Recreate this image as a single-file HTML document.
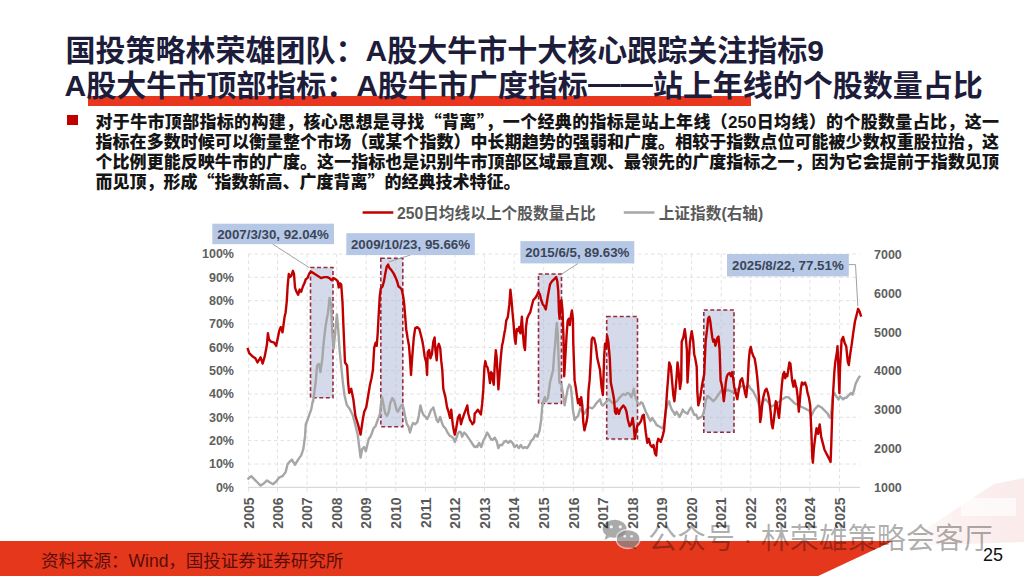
<!DOCTYPE html>
<html><head><meta charset="utf-8"><style>
html,body{margin:0;padding:0;background:#fff;}
body{width:1024px;height:576px;position:relative;overflow:hidden;font-family:"Liberation Sans","Noto Sans CJK SC",sans-serif;}
.abs{position:absolute;white-space:nowrap;}
.title{left:67px;font-size:30px;font-weight:700;color:#1d1d3b;line-height:36px;letter-spacing:0;}
.bar{position:absolute;left:87.5px;top:95.5px;width:663px;height:10.5px;background:#e8361f;}
.bullet{position:absolute;left:67px;top:115px;width:10.5px;height:10px;background:#c00000;}
.pl{position:absolute;left:95.5px;width:903.5px;height:20px;font-size:17px;line-height:20px;font-weight:900;color:#151515;text-align:justify;text-align-last:justify;white-space:nowrap;}
.pl.last{text-align-last:left;}
.q{font-family:"Noto Sans CJK SC",sans-serif;line-height:0;}
.chart{position:absolute;left:0;top:0;}
.g{stroke:#e2e2e2;stroke-width:1;stroke-dasharray:3.5 3;}
.bx{fill:#a9b6d3;fill-opacity:0.5;stroke:#962c3c;stroke-width:1.6;stroke-dasharray:4 2.5;}
.lg{fill:none;stroke:#a6a6a6;stroke-width:2.4;stroke-linejoin:round;}
.lr{fill:none;stroke:#c00000;stroke-width:2.4;stroke-linejoin:round;}
.al{font-family:"Liberation Sans",sans-serif;font-size:12.5px;font-weight:700;fill:#606060;}
.xl{font-family:"Liberation Sans",sans-serif;font-size:14px;font-weight:700;fill:#595959;}
.ld{stroke:#a0a0a0;stroke-width:1;}
.ab{fill:#b7c8e6;}
.at{font-family:"Liberation Sans",sans-serif;font-size:13.3px;font-weight:700;fill:#3b4659;}
.lgt{font-family:"Liberation Sans","Noto Sans CJK SC",sans-serif;font-size:15.7px;font-weight:700;fill:#595959;}
.foot{position:absolute;left:0;top:540.5px;width:1024px;height:36px;}
.src{left:41px;top:547px;font-size:17.5px;color:#5a0e0a;}
.pg{left:983px;top:544.5px;font-size:18px;color:#111;}
.wm{left:648px;top:515px;font-size:29px;color:rgba(0,0,0,0.32);}
</style></head><body>
<div class="bar"></div>
<div class="abs title" style="top:32.5px;left:65.5px;">国投策略林荣雄团队：A股大牛市十大核心跟踪关注指标9</div>
<div class="abs title" style="top:67.5px;left:64.5px;">A股大牛市顶部指标：A股牛市广度指标<span style="display:inline-block;transform:scaleX(1.08);transform-origin:0 0;margin-right:5px;position:relative;top:-2px">——</span>站上年线的个股数量占比</div>
<div class="bullet"></div>
<div class="pl" style="top:112.8px">对于牛市顶部指标的构建，核心思想是寻找<span class="q">“</span>背离<span class="q">”</span>，一个经典的指标是站上年线（250日均线）的个股数量占比，这一</div><div class="pl" style="top:132.6px">指标在多数时候可以衡量整个市场（或某个指数）中长期趋势的强弱和广度。相较于指数点位可能被少数权重股拉抬，这</div><div class="pl" style="top:153.2px">个比例更能反映牛市的广度。这一指标也是识别牛市顶部区域最直观、最领先的广度指标之一，因为它会提前于指数见顶</div><div class="pl last" style="top:173.2px">而见顶，形成<span class="q">“</span>指数新高、广度背离<span class="q">”</span>的经典技术特征。</div>
<svg class="chart" width="1024" height="576" viewBox="0 0 1024 576">
<g><line x1="248.0" y1="464.0" x2="860.0" y2="464.0" class="g"/><line x1="248.0" y1="440.6" x2="860.0" y2="440.6" class="g"/><line x1="248.0" y1="417.3" x2="860.0" y2="417.3" class="g"/><line x1="248.0" y1="394.0" x2="860.0" y2="394.0" class="g"/><line x1="248.0" y1="370.7" x2="860.0" y2="370.7" class="g"/><line x1="248.0" y1="347.3" x2="860.0" y2="347.3" class="g"/><line x1="248.0" y1="324.0" x2="860.0" y2="324.0" class="g"/><line x1="248.0" y1="300.7" x2="860.0" y2="300.7" class="g"/><line x1="248.0" y1="277.3" x2="860.0" y2="277.3" class="g"/><line x1="248.0" y1="254.0" x2="860.0" y2="254.0" class="g"/><line x1="248.6" y1="254.0" x2="248.6" y2="493.3" class="g"/><line x1="277.5" y1="254.0" x2="277.5" y2="493.3" class="g"/><line x1="307.1" y1="254.0" x2="307.1" y2="493.3" class="g"/><line x1="336.7" y1="254.0" x2="336.7" y2="493.3" class="g"/><line x1="366.2" y1="254.0" x2="366.2" y2="493.3" class="g"/><line x1="395.8" y1="254.0" x2="395.8" y2="493.3" class="g"/><line x1="425.4" y1="254.0" x2="425.4" y2="493.3" class="g"/><line x1="455.0" y1="254.0" x2="455.0" y2="493.3" class="g"/><line x1="484.6" y1="254.0" x2="484.6" y2="493.3" class="g"/><line x1="514.1" y1="254.0" x2="514.1" y2="493.3" class="g"/><line x1="543.7" y1="254.0" x2="543.7" y2="493.3" class="g"/><line x1="573.3" y1="254.0" x2="573.3" y2="493.3" class="g"/><line x1="602.9" y1="254.0" x2="602.9" y2="493.3" class="g"/><line x1="632.5" y1="254.0" x2="632.5" y2="493.3" class="g"/><line x1="662.0" y1="254.0" x2="662.0" y2="493.3" class="g"/><line x1="691.6" y1="254.0" x2="691.6" y2="493.3" class="g"/><line x1="721.2" y1="254.0" x2="721.2" y2="493.3" class="g"/><line x1="750.8" y1="254.0" x2="750.8" y2="493.3" class="g"/><line x1="780.4" y1="254.0" x2="780.4" y2="493.3" class="g"/><line x1="809.9" y1="254.0" x2="809.9" y2="493.3" class="g"/><line x1="839.5" y1="254.0" x2="839.5" y2="493.3" class="g"/></g>
<line x1="248.0" y1="487.3" x2="860.0" y2="487.3" stroke="#d9d9d9" stroke-width="1.3"/>
<rect x="310.5" y="267.5" width="22.5" height="130.3" class="bx"/><rect x="380.8" y="258.3" width="22.0" height="168.4" class="bx"/><rect x="538.5" y="274.0" width="23.0" height="129.5" class="bx"/><rect x="606.7" y="316.5" width="30.8" height="122.5" class="bx"/><rect x="703.8" y="310.0" width="30.2" height="122.3" class="bx"/>
<polyline points="247.5,479.4 251.2,476.2 254.4,479.4 257.5,482.5 260.6,485.6 263.8,483.5 266.9,480.4 270.0,482.5 273.1,484.2 276.2,481.5 279.4,477.3 282.5,476.2 285.6,472.1 287.7,463.8 289.8,461.7 291.9,459.6 295.0,464.8 298.1,459.6 301.2,455.4 303.3,449.2 305.0,436.7 305.8,424.2 307.5,420.0 309.6,413.8 311.2,409.6 312.7,401.2 313.1,401.8 315.7,382.0 317.1,365.5 319.0,363.9 320.4,372.1 322.3,358.9 323.7,342.4 325.6,325.9 328.0,312.7 329.6,297.9 331.3,306.1 332.2,332.5 333.6,349.0 335.5,329.2 336.9,314.4 338.2,329.2 339.5,349.0 341.2,365.5 342.8,382.0 344.5,395.2 346.8,405.1 349.4,408.4 352.7,415.0 355.3,424.9 357.7,434.8 360.6,457.5 362.1,449.2 364.2,447.1 365.8,451.2 367.3,445.0 368.8,438.8 370.4,436.7 372.1,432.5 373.5,428.3 375.6,426.2 377.7,420.0 379.8,414.8 380.8,405.4 381.9,397.1 382.9,401.2 384.0,407.5 385.4,413.8 387.1,415.8 388.8,411.7 390.2,403.3 392.3,398.1 394.4,401.2 396.5,409.6 397.9,411.7 399.6,408.5 401.2,405.4 402.7,404.4 403.8,409.6 405.4,417.9 406.9,424.2 408.3,426.2 410.0,432.5 411.7,426.2 413.1,423.1 415.2,424.2 417.3,422.1 418.8,415.8 420.4,405.4 422.1,411.7 423.5,414.8 425.6,416.9 427.1,419.0 428.8,415.8 430.8,410.6 433.3,407.5 435.0,413.8 436.7,420.0 438.1,422.1 440.2,416.9 441.7,422.1 443.3,426.2 445.4,428.3 447.5,432.5 449.6,435.6 451.7,436.7 453.8,438.8 454.8,441.9 456.2,438.8 457.9,433.5 459.6,431.5 461.0,432.5 462.1,436.7 464.2,432.5 466.2,434.6 468.3,437.7 470.4,440.8 472.5,444.0 474.6,447.1 476.7,446.0 477.1,447.1 479.2,442.9 481.2,447.1 483.3,440.8 485.4,436.7 487.1,432.5 488.5,434.6 490.6,438.8 492.7,439.8 494.8,437.7 496.9,441.9 498.3,448.1 500.0,445.0 502.1,445.0 504.2,441.9 506.2,440.8 508.3,442.9 510.4,440.8 512.5,442.9 514.6,447.1 516.7,445.0 518.8,448.1 520.8,445.0 522.9,448.1 525.0,447.1 527.1,448.1 529.2,445.0 531.2,440.8 533.3,438.8 535.4,434.6 537.5,436.7 539.6,430.4 541.2,420.0 542.1,407.5 543.3,401.2 544.8,397.1 545.8,401.2 547.9,398.1 550.0,382.5 553.1,370.0 554.2,354.2 555.2,343.8 556.2,329.2 556.9,322.9 557.7,333.3 558.3,350.0 559.4,382.5 561.5,384.6 562.5,390.8 564.6,405.4 566.2,397.1 567.7,388.8 569.2,384.6 570.8,386.7 571.9,397.1 572.9,409.6 574.6,420.0 576.0,417.9 578.1,415.8 580.2,408.5 582.3,411.7 584.4,413.8 586.5,409.6 588.5,407.5 590.0,407.5 592.1,408.5 594.2,406.5 596.2,403.3 598.3,401.2 600.0,399.2 601.5,404.4 602.9,405.4 605.0,403.3 606.7,401.2 608.8,399.2 610.8,401.2 612.9,403.3 615.0,402.3 617.1,401.2 619.2,398.1 621.2,396.0 623.3,394.0 625.4,395.0 627.5,392.9 629.6,394.0 631.2,397.1 632.7,392.9 633.8,388.8 634.8,395.0 636.2,399.2 637.9,403.3 639.6,404.4 641.0,402.3 642.5,403.3 644.2,407.5 645.8,411.7 647.3,414.8 648.8,417.9 650.4,421.0 652.1,417.9 653.5,420.0 655.0,422.1 656.7,425.2 658.8,426.2 660.8,427.3 662.9,428.3 664.0,424.2 665.0,417.9 666.0,409.6 667.5,404.4 669.2,401.2 670.2,405.4 671.7,409.6 673.3,411.7 675.0,414.8 676.5,411.7 677.9,413.8 679.6,416.9 681.2,413.8 682.7,409.6 684.2,411.7 685.8,412.7 687.5,413.8 689.0,410.6 691.0,407.5 692.5,410.6 694.2,414.8 696.2,414.8 697.9,419.0 699.4,417.9 701.5,416.9 702.9,414.8 704.6,408.5 705.6,401.2 707.1,397.1 707.5,396.0 709.2,397.1 711.2,399.2 713.3,401.2 715.4,399.2 717.5,396.0 719.6,392.9 721.7,389.8 723.8,391.9 725.8,390.8 727.9,389.8 730.0,390.8 732.1,391.9 734.2,390.8 736.2,389.8 738.3,388.8 740.4,386.7 742.5,385.6 744.6,387.7 746.7,386.7 748.8,385.6 750.8,388.8 752.9,390.8 755.0,395.0 757.1,399.2 758.8,404.4 760.2,408.5 761.7,406.5 763.3,401.2 765.4,399.2 767.5,401.2 769.6,404.4 771.7,406.5 773.8,405.4 775.8,403.3 777.9,402.3 780.0,401.2 782.1,399.2 784.2,398.1 786.2,397.1 788.3,397.1 790.4,399.2 792.5,401.2 794.6,403.3 796.7,404.4 798.8,405.4 800.8,406.5 802.9,407.5 805.0,408.5 807.1,409.6 809.2,410.6 810.2,412.7 811.2,415.8 812.3,413.8 813.3,411.7 815.0,408.8 818.1,405.6 821.2,407.2 824.4,410.3 827.5,413.4 829.1,416.6 830.6,418.1 831.6,408.8 832.8,396.2 834.4,393.1 836.2,396.2 838.4,399.4 840.0,396.2 841.6,397.8 843.1,399.4 844.7,397.8 846.2,397.8 847.8,396.2 849.4,394.7 850.9,393.1 852.5,394.7 854.1,390.0 855.6,383.8 857.2,380.6 858.8,377.5 860.3,375.9" class="lg"/>
<polyline points="247.5,347.9 249.2,353.1 252.3,356.2 255.4,358.3 257.5,362.5 260.6,357.3 262.7,363.5 264.8,356.2 266.9,344.8 267.9,333.3 269.0,339.6 271.0,341.7 274.2,342.7 276.2,345.8 277.9,337.5 279.4,330.2 280.8,327.1 282.5,332.3 283.5,325.0 284.6,316.7 285.6,312.5 286.7,302.1 287.7,285.4 288.8,274.0 289.8,277.1 291.2,276.0 292.9,270.8 294.0,274.0 295.0,287.5 296.0,290.6 298.1,294.8 299.6,289.6 301.2,291.7 302.9,286.5 304.4,283.3 305.8,279.2 307.5,278.1 309.6,272.9 311.7,271.9 314.8,274.0 317.9,276.0 321.0,278.1 324.2,277.1 327.3,277.1 329.4,278.1 331.5,280.2 333.5,278.1 335.6,279.2 337.7,281.2 338.8,287.5 339.8,283.3 341.2,284.4 342.5,302.1 343.3,322.9 344.2,343.8 345.0,362.5 347.1,365.6 348.1,382.5 349.2,392.9 351.2,388.8 353.3,399.2 355.4,415.8 358.5,426.2 360.6,434.6 362.7,420.0 364.2,411.7 366.2,407.5 368.3,395.0 370.0,384.6 371.5,378.3 372.9,370.0 374.2,347.9 375.6,342.7 376.7,345.8 377.7,333.3 378.8,312.5 379.8,295.8 380.8,288.5 382.5,286.5 384.0,281.2 385.4,272.9 386.7,266.7 388.1,264.6 389.2,267.7 391.2,269.8 393.3,272.9 395.4,277.1 397.1,281.2 398.5,286.5 400.0,287.5 401.7,289.6 403.1,295.8 404.2,304.2 405.4,318.8 406.2,329.2 407.5,337.5 409.0,345.8 410.0,358.3 411.0,375.0 412.1,358.3 413.8,337.5 415.2,328.1 417.3,327.1 419.4,329.2 421.5,337.5 422.5,341.7 423.5,347.9 424.6,356.2 426.2,362.5 427.1,375.0 427.7,352.1 429.2,350.0 430.4,358.3 431.9,354.2 433.3,341.7 434.6,337.5 435.4,350.0 436.7,360.4 437.5,347.9 438.8,343.8 440.2,347.9 441.2,360.4 442.3,370.0 443.3,388.8 445.4,397.1 447.1,407.5 448.5,411.7 450.0,417.9 451.2,409.6 452.7,424.2 453.8,430.4 454.8,434.6 455.8,430.4 456.9,424.2 457.9,417.9 459.6,414.8 461.0,424.2 462.1,420.0 464.2,413.8 465.8,409.6 467.3,405.4 468.3,413.8 470.0,420.0 471.5,422.1 472.5,424.2 474.2,422.1 474.7,413.6 476.2,412.0 477.8,409.7 479.4,412.0 480.9,414.4 482.2,403.4 483.3,389.4 484.4,367.5 485.3,361.2 486.4,365.9 487.5,367.5 488.8,373.8 490.0,383.1 491.1,372.2 492.2,373.8 493.1,381.6 493.8,384.7 494.7,365.9 495.8,350.3 496.6,356.6 497.3,369.1 498.4,389.4 499.4,376.9 500.5,361.2 501.2,353.4 502.0,345.6 502.8,342.5 503.6,337.8 504.4,333.1 505.2,329.2 506.2,320.8 507.9,316.7 509.4,304.2 510.4,289.6 511.5,300.0 512.5,312.5 513.5,322.9 514.6,337.5 515.6,343.8 516.7,329.2 517.7,331.2 519.2,327.1 520.4,333.3 521.9,316.7 522.9,333.3 524.0,345.8 525.0,350.0 526.0,327.1 527.1,318.8 528.8,314.6 530.2,312.5 531.7,306.2 533.3,300.0 535.4,297.9 537.1,294.8 538.5,291.7 540.0,294.8 541.2,300.0 542.7,304.2 544.4,306.2 545.8,309.4 546.9,302.1 547.9,295.8 549.0,289.6 550.0,284.4 552.1,281.2 554.2,279.2 556.2,277.1 557.3,281.2 558.3,291.7 559.0,312.5 559.6,318.8 560.4,302.1 561.5,300.0 562.5,310.4 563.5,337.5 564.2,376.2 566.7,333.3 567.7,320.8 568.8,318.8 569.8,325.0 570.8,316.7 571.9,310.4 572.9,318.8 573.3,343.8 574.6,380.4 576.0,388.8 577.1,397.1 578.1,403.3 579.2,399.2 580.2,405.4 581.2,397.1 582.3,405.4 583.3,422.1 584.4,430.4 585.4,426.2 586.5,422.1 587.5,415.8 588.5,390.8 589.6,380.4 590.6,362.5 591.7,339.6 592.7,337.5 594.2,338.5 595.8,345.8 597.3,358.3 598.8,364.6 600.0,370.0 601.5,386.7 602.9,395.0 604.2,356.2 605.0,343.8 606.2,347.9 607.1,335.4 608.3,341.7 609.8,358.3 610.8,382.5 612.5,390.8 614.0,399.2 615.0,411.7 616.0,413.8 617.1,408.5 618.8,413.8 620.2,409.6 621.7,407.5 623.3,405.4 625.0,407.5 626.5,411.7 627.9,420.0 629.6,426.2 631.2,424.2 632.7,417.9 633.8,426.2 634.8,438.8 635.8,432.5 637.5,425.2 639.0,424.2 641.0,421.0 642.5,415.8 643.8,414.8 644.6,422.1 645.8,432.5 647.3,442.9 648.8,438.8 650.4,445.0 652.1,447.1 653.5,445.0 655.0,453.3 656.2,455.4 657.1,442.9 658.3,438.8 659.8,440.8 660.8,441.9 662.5,436.7 664.0,430.4 665.0,417.9 666.0,407.5 667.1,390.8 668.1,378.3 669.2,362.5 670.8,366.7 673.3,395.0 674.4,401.2 675.4,390.8 676.5,378.3 677.5,362.5 678.5,370.0 680.0,388.8 681.2,380.4 681.7,341.7 683.3,337.5 684.8,329.2 685.8,337.5 686.9,350.0 687.5,382.5 690.0,341.7 691.7,331.2 693.1,339.6 694.2,354.2 695.2,358.3 696.7,366.7 697.3,390.8 698.3,405.4 700.0,399.2 701.5,388.8 702.5,382.5 704.2,374.2 705.6,341.7 707.1,329.2 708.1,318.8 709.2,316.7 710.2,320.8 711.2,329.2 712.3,337.5 713.3,341.7 714.4,339.6 715.4,345.8 716.5,341.7 717.5,337.5 718.5,336.5 719.6,350.0 720.6,380.4 721.7,384.6 722.7,390.8 723.8,401.2 724.8,392.9 725.8,382.5 726.9,376.2 727.9,374.2 729.6,373.1 731.0,376.2 732.1,372.1 733.1,378.3 734.2,386.7 735.8,392.9 737.3,399.2 738.3,392.9 739.4,386.7 740.4,380.4 742.1,378.3 743.5,384.6 745.0,392.9 746.2,397.1 747.7,382.5 748.8,360.4 749.8,350.0 750.8,346.9 751.9,352.1 753.3,356.2 754.6,358.3 756.0,366.7 757.1,376.2 758.1,386.7 759.2,401.2 760.2,422.1 761.2,415.8 762.3,403.3 763.3,397.1 765.0,390.8 766.5,388.8 767.9,392.9 769.2,399.2 770.6,411.7 771.7,424.2 772.7,428.3 773.8,420.0 774.8,411.7 775.8,401.2 776.9,403.3 777.9,411.7 779.0,417.9 780.0,407.5 781.0,395.0 782.1,382.5 783.1,374.2 784.2,372.1 785.2,378.3 786.2,374.2 787.3,376.2 789.4,362.5 790.4,363.5 792.1,380.4 793.5,386.7 794.6,380.4 795.6,384.6 796.7,388.8 797.7,397.1 798.8,411.7 799.8,401.2 800.8,388.8 801.9,382.5 803.3,384.6 805.0,382.5 806.5,386.7 807.5,392.9 808.8,397.1 810.2,405.4 811.2,428.3 812.3,457.5 812.9,462.7 813.8,449.2 815.0,438.8 816.5,428.3 817.5,432.5 818.1,433.8 819.7,424.4 821.2,436.9 822.8,443.1 824.4,449.4 825.9,452.5 827.5,455.6 829.1,458.8 830.6,461.9 831.2,446.2 832.2,415.0 833.1,393.1 834.4,371.2 835.3,361.9 836.9,352.5 837.5,346.2 838.4,368.1 839.4,393.1 840.0,368.1 841.6,340.0 843.1,336.9 844.7,343.1 846.2,346.2 847.8,361.9 848.8,365.0 850.0,355.6 851.9,343.1 853.1,333.8 855.0,321.2 856.6,315.0 858.1,308.8 859.7,311.9 861.2,316.6" class="lr"/>
<g><text x="234" y="491.6" class="al" text-anchor="end">0%</text><text x="234" y="468.3" class="al" text-anchor="end">10%</text><text x="234" y="444.9" class="al" text-anchor="end">20%</text><text x="234" y="421.6" class="al" text-anchor="end">30%</text><text x="234" y="398.3" class="al" text-anchor="end">40%</text><text x="234" y="375.0" class="al" text-anchor="end">50%</text><text x="234" y="351.6" class="al" text-anchor="end">60%</text><text x="234" y="328.3" class="al" text-anchor="end">70%</text><text x="234" y="305.0" class="al" text-anchor="end">80%</text><text x="234" y="281.6" class="al" text-anchor="end">90%</text><text x="234" y="258.3" class="al" text-anchor="end">100%</text><text x="874" y="491.8" class="al">1000</text><text x="874" y="453.0" class="al">2000</text><text x="874" y="414.2" class="al">3000</text><text x="874" y="375.4" class="al">4000</text><text x="874" y="336.6" class="al">5000</text><text x="874" y="297.8" class="al">6000</text><text x="874" y="259.0" class="al">7000</text><text transform="translate(253.8,497.5) rotate(-90)" class="xl" text-anchor="end">2005</text><text transform="translate(282.7,497.5) rotate(-90)" class="xl" text-anchor="end">2006</text><text transform="translate(312.3,497.5) rotate(-90)" class="xl" text-anchor="end">2007</text><text transform="translate(341.9,497.5) rotate(-90)" class="xl" text-anchor="end">2008</text><text transform="translate(371.4,497.5) rotate(-90)" class="xl" text-anchor="end">2009</text><text transform="translate(401.0,497.5) rotate(-90)" class="xl" text-anchor="end">2010</text><text transform="translate(430.6,497.5) rotate(-90)" class="xl" text-anchor="end">2011</text><text transform="translate(460.2,497.5) rotate(-90)" class="xl" text-anchor="end">2012</text><text transform="translate(489.8,497.5) rotate(-90)" class="xl" text-anchor="end">2013</text><text transform="translate(519.3,497.5) rotate(-90)" class="xl" text-anchor="end">2014</text><text transform="translate(548.9,497.5) rotate(-90)" class="xl" text-anchor="end">2015</text><text transform="translate(578.5,497.5) rotate(-90)" class="xl" text-anchor="end">2016</text><text transform="translate(608.1,497.5) rotate(-90)" class="xl" text-anchor="end">2017</text><text transform="translate(637.7,497.5) rotate(-90)" class="xl" text-anchor="end">2018</text><text transform="translate(667.2,497.5) rotate(-90)" class="xl" text-anchor="end">2019</text><text transform="translate(696.8,497.5) rotate(-90)" class="xl" text-anchor="end">2020</text><text transform="translate(726.4,497.5) rotate(-90)" class="xl" text-anchor="end">2021</text><text transform="translate(756.0,497.5) rotate(-90)" class="xl" text-anchor="end">2022</text><text transform="translate(785.6,497.5) rotate(-90)" class="xl" text-anchor="end">2023</text><text transform="translate(815.1,497.5) rotate(-90)" class="xl" text-anchor="end">2024</text><text transform="translate(844.7,497.5) rotate(-90)" class="xl" text-anchor="end">2025</text></g>
<!-- annotation leaders -->
<line x1="272.5" y1="244" x2="309" y2="267.5" class="ld"/>
<line x1="410.5" y1="255" x2="388.7" y2="262" class="ld"/>
<line x1="578" y1="263.4" x2="561.2" y2="274.5" class="ld"/>
<polyline points="848.5,264.6 855.5,264.6 857.8,306" class="ld" fill="none"/>
<rect x="212.3" y="223.7" width="121.7" height="20.5" class="ab"/>
<text x="273" y="239.2" class="at" text-anchor="middle">2007/3/30, 92.04%</text>
<rect x="346.3" y="233.2" width="128.5" height="21.9" class="ab"/>
<text x="410.5" y="249.2" class="at" text-anchor="middle">2009/10/23, 95.66%</text>
<rect x="520.4" y="241.1" width="113.9" height="22.3" class="ab"/>
<text x="577.3" y="257.3" class="at" text-anchor="middle">2015/6/5, 89.63%</text>
<rect x="727" y="254" width="121.8" height="22.4" class="ab"/>
<text x="787.9" y="270.3" class="at" text-anchor="middle">2025/8/22, 77.51%</text>
<!-- legend -->
<line x1="362.6" y1="212.5" x2="393.3" y2="212.5" stroke="#c00000" stroke-width="2.5"/>
<text x="397" y="218.5" class="lgt">250日均线以上个股数量占比</text>
<line x1="623.8" y1="212.5" x2="654.5" y2="212.5" stroke="#a6a6a6" stroke-width="2.5"/>
<text x="658.7" y="218.5" class="lgt">上证指数(右轴)</text>
</svg>
<svg class="abs" style="left:0;top:0" width="1024" height="576"><defs><linearGradient id="pk" x1="0" y1="0" x2="1" y2="0"><stop offset="0" stop-color="#f6d6d6" stop-opacity="0"/><stop offset="0.45" stop-color="#f6d6d6" stop-opacity="0.35"/><stop offset="1" stop-color="#f6d6d6" stop-opacity="0.5"/></linearGradient></defs><polygon points="994,484 1024,478 1024,542 900,546" fill="url(#pk)"/><rect x="961" y="498" width="55" height="18" fill="#fff" opacity="0.65"/></svg>
<svg class="foot" width="1024" height="36" viewBox="0 0 1024 36"><polygon points="0,0 893,0 816,36 0,36" fill="#e5371c"/></svg>
<div class="abs src">资料来源：Wind，国投证券证券研究所</div>
<div class="abs pg">25</div>
<svg class="abs" style="left:0;top:0" width="1024" height="576" viewBox="0 0 1024 576">
<g opacity="0.33">
<ellipse cx="614.6" cy="528.8" rx="12" ry="9" fill="#000"/>
<path d="M606,535 L604.5,540 L610,537 Z" fill="#000"/>
</g>
<ellipse cx="628.1" cy="539" rx="12.6" ry="10.2" fill="#fff" opacity="0.6"/>
<g opacity="0.33">
<ellipse cx="628.1" cy="539" rx="11.3" ry="8.8" fill="#000"/>
<path d="M634,545 L636.5,549.5 L630,547 Z" fill="#000"/>
</g>
<circle cx="611.3" cy="526.8" r="1.6" fill="#fff" opacity="0.9"/>
<circle cx="620.3" cy="526.8" r="1.6" fill="#fff" opacity="0.9"/>
<circle cx="624.8" cy="536.2" r="1.3" fill="#fff" opacity="0.85"/>
<circle cx="631.6" cy="536.2" r="1.3" fill="#fff" opacity="0.85"/>
</svg>
<div class="abs wm">公众号 · 林荣雄策略会客厅</div>
</body></html>
